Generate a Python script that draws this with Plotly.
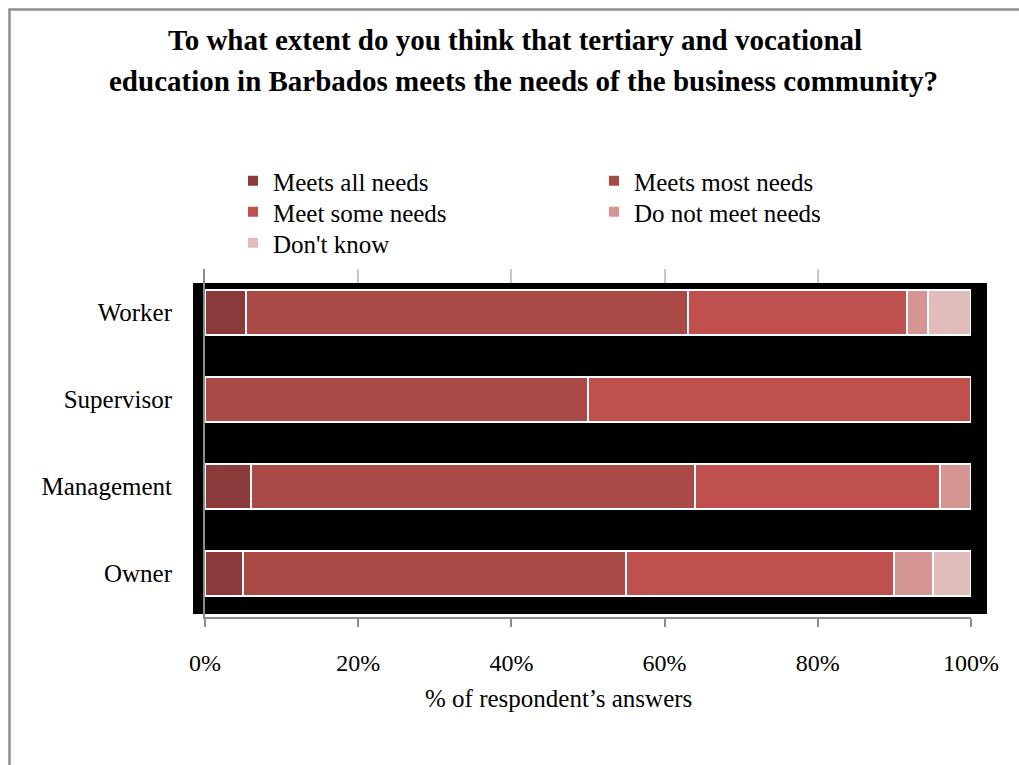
import plotly.graph_objects as go

categories = ["Worker", "Supervisor", "Management", "Owner"]
series_names = ["Meets all needs", "Meets most needs", "Meet some needs",
                "Do not meet needs", "Don't know"]
meets_all = [5.3, 0, 6, 5]
meets_most = [57.7, 50, 58, 50]
meet_some = [28.7, 50, 32, 35]
do_not_meet = [2.7, 0, 4, 5]
dont_know = [5.6, 0, 0, 5]
tick_vals = [0, 20, 40, 60, 80, 100]
tick_text = ["0%", "20%", "40%", "60%", "80%", "100%"]

colors = ["#8B3A3A", "#A94A47", "#C0504D", "#D49593", "#E0BCBB"]
series_vals = [meets_all, meets_most, meet_some, do_not_meet, dont_know]
legend_ids = ["legend", "legend", "legend2", "legend2", "legend3"]

W, H = 1019, 765
ML, MR, MT, MB = 205, 48, 269, 148
PW = W - ML - MR
PH = H - MT - MB


def px_x(p):
    return (p - ML) / PW


def px_y(p):
    return (H - MB - p) / PH


def cat_y(p):
    # pixel -> category coordinate on reversed axis [3.5, -0.5]
    return -0.5 + (p - MT) / PH * 4.0


FONT = "Liberation Serif, Times New Roman, serif"

fig = go.Figure()
for name, vals, col, lg in zip(series_names, series_vals, colors, legend_ids):
    fig.add_trace(go.Bar(
        y=categories, x=vals, name=name, orientation="h",
        marker=dict(color=col, line=dict(color="white", width=2)),
        width=0.52, legend=lg,
    ))

# empty helper trace so the top (x2) axis with the short grid stubs is drawn
fig.add_trace(go.Scatter(x=[None], y=[None], xaxis="x2", yaxis="y",
                         mode="markers", showlegend=False, hoverinfo="skip"))

leg_common = dict(
    orientation="h", xanchor="left", yanchor="middle",
    entrywidth=316, entrywidthmode="pixels",
    font=dict(family=FONT, size=25, color="black"),
    bgcolor="rgba(0,0,0,0)", traceorder="normal",
)

fig.update_layout(
    width=W, height=H,
    margin=dict(l=ML, r=MR, t=MT, b=MB),
    barmode="stack",
    paper_bgcolor="white", plot_bgcolor="white",
    font=dict(family=FONT, size=24, color="black"),
    showlegend=True,
    legend=dict(x=px_x(233), y=px_y(181), **leg_common),
    legend2=dict(x=px_x(233), y=px_y(212), **leg_common),
    legend3=dict(x=px_x(233), y=px_y(243), **leg_common),
    xaxis=dict(
        range=[0, 100], tickvals=tick_vals, ticktext=tick_text,
        showgrid=False,
        showline=True, linecolor="#8c8c8c", linewidth=2,
        ticks="outside", ticklen=8, tickwidth=2, tickcolor="#8c8c8c",
        ticklabelstandoff=15, zeroline=False, fixedrange=True,
        tickfont=dict(size=24),
    ),
    xaxis2=dict(
        range=[0, 100], tickvals=tick_vals[1:], overlaying="x", side="top",
        anchor="y", showgrid=False, showline=False, zeroline=False,
        ticks="inside", ticklen=14, tickwidth=2, tickcolor="#c8c8c8",
        showticklabels=False, fixedrange=True,
    ),
    yaxis=dict(
        range=[3.5, -0.5], type="category",
        showgrid=False, showline=True, linecolor="#8c8c8c", linewidth=2,
        ticks="", ticklabelstandoff=26, zeroline=False,
        tickfont=dict(size=25),
    ),
    shapes=[
        dict(type="rect", xref="paper", yref="y",
             x0=px_x(193), x1=px_x(987), y0=cat_y(614), y1=cat_y(283),
             fillcolor="black", line=dict(width=0), layer="below"),
        dict(type="rect", xref="paper", yref="paper",
             x0=px_x(9.5), x1=px_x(1040), y0=px_y(790), y1=px_y(9.5),
             fillcolor="rgba(0,0,0,0)", line=dict(color="#8f8f8f", width=2.5),
             layer="above"),
    ],
    annotations=[
        dict(text="<b>To what extent do you think that tertiary and vocational</b>",
             xref="paper", yref="paper", x=px_x(515), y=px_y(40),
             xanchor="center", yanchor="middle", showarrow=False,
             font=dict(family=FONT, size=29, color="black")),
        dict(text="<b>education in Barbados meets the needs of the business community?</b>",
             xref="paper", yref="paper", x=px_x(523), y=px_y(81),
             xanchor="center", yanchor="middle", showarrow=False,
             font=dict(family=FONT, size=29, color="black")),
        dict(text="% of respondent\u2019s answers",
             xref="paper", yref="paper", x=px_x(558), y=px_y(698),
             xanchor="center", yanchor="middle", showarrow=False,
             font=dict(family=FONT, size=25, color="black")),
    ],
)

fig.write_html("out.html")
